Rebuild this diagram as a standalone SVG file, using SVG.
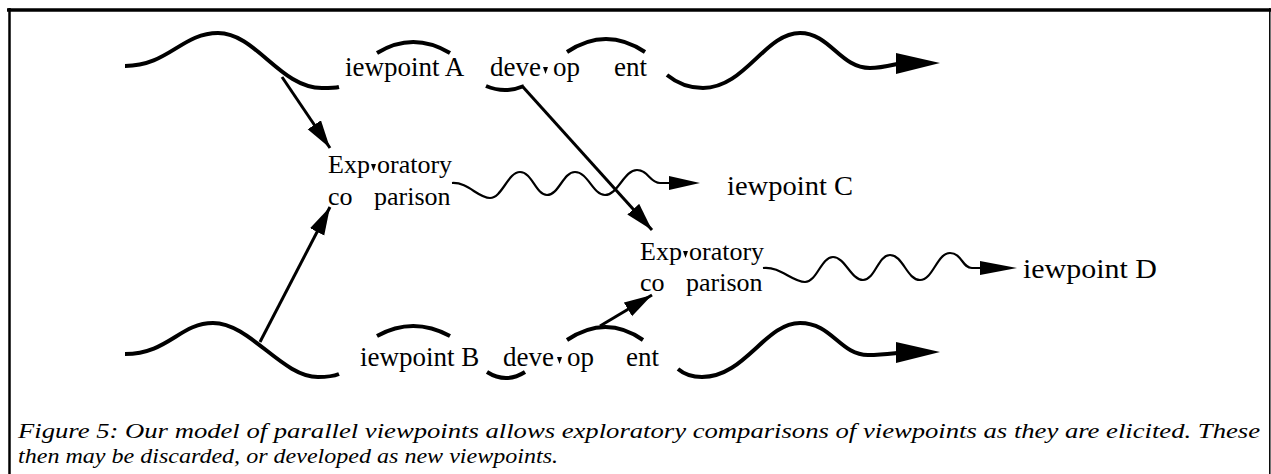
<svg xmlns="http://www.w3.org/2000/svg" width="1271" height="474" viewBox="0 0 1271 474">
  <style>
    .lbl { font-family: "Liberation Serif", "Times New Roman", serif; font-size: 27px; fill: #000; }
    .box { font-family: "Liberation Serif", "Times New Roman", serif; font-size: 26px; fill: #000; }
    .cap { font-family: "Liberation Serif", "Times New Roman", serif; font-size: 22px; font-style: italic; fill: #000; }
    .thick { fill: none; stroke: #000; stroke-width: 4; stroke-linecap: butt; }
    .wavy { fill: none; stroke: #000; stroke-width: 2.2; }
    .link { fill: none; stroke: #000; stroke-width: 3; marker-end: url(#head); }
    .stub { fill: #000; }
  </style>
  <defs>
    <marker id="head" markerUnits="userSpaceOnUse" markerWidth="30" markerHeight="18" refX="28" refY="8" orient="auto">
      <path d="M0,0 L28,8 L0,16 Z" fill="#000"/>
    </marker>
  </defs>

  <rect x="0" y="0" width="1271" height="474" fill="#fff"/>

  <!-- figure frame -->
  <g id="frame" stroke="#000" fill="none">
    <path d="M7,10 H1271" stroke-width="3.5"/>
    <path d="M9.5,8 V474" stroke-width="2.5"/>
    <path d="M1269.8,8 V474" stroke-width="1.5"/>
  </g>

  <!-- viewpoint A development strand -->
  <g id="viewpoint-a">
    <path class="thick" d="M125,66 C168,66 182,33 218,33 C256,33 280,88 322,88 C330,88 335,88 339,87"/>
    <path class="thick" d="M377,53 Q413,31 450,53"/>
    <path class="thick" d="M486,86 Q505,94 524,86"/>
    <path class="thick" d="M567,52 Q606,26 645,52"/>
    <path class="thick" d="M667,75 C678,84 690,88 703,88 C745,88 765,33 800,33 C830,33 840,68 870,68 C880,68 888,66 897,64"/>
    <polygon points="940,63 896,53 896,74"/>
    <text class="lbl" x="345" y="76">iewpoint A</text>
    <text class="lbl" x="490" y="76">deve</text>
    <path class="stub" d="M543,67 h5 l-2.5,7 z"/>
    <text class="lbl" x="553" y="76">op</text>
    <text class="lbl" x="614" y="76">ent</text>
  </g>

  <!-- viewpoint B development strand -->
  <g id="viewpoint-b">
    <path class="thick" d="M125,354 C168,354 180,323 213,323 C250,323 282,377 318,377 C328,377 334,376 339,374"/>
    <path class="thick" d="M377,336 Q413,316 450,336"/>
    <path class="thick" d="M487,372 Q506,384 525,372"/>
    <path class="thick" d="M567,340 Q606,314 643,340"/>
    <path class="thick" d="M678,369 C685,375 692,377 702,377 C745,377 765,323 800,323 C832,323 840,355 868,355 C880,355 888,354 897,353"/>
    <polygon points="940,352 896,342 896,363"/>
    <text class="lbl" x="360" y="366">iewpoint B</text>
    <text class="lbl" x="503" y="366">deve</text>
    <path class="stub" d="M557,357 h5 l-2.5,7 z"/>
    <text class="lbl" x="567" y="366">op</text>
    <text class="lbl" x="626" y="366">ent</text>
  </g>

  <!-- first exploratory comparison -->
  <g id="comparison-1">
    <text class="box" x="328" y="173">Exp</text>
    <path class="stub" d="M371,164 h5 l-2.5,7 z"/>
    <text class="box" x="377" y="173">oratory</text>
    <text class="box" x="328" y="205">co</text>
    <text class="box" x="374" y="205">parison</text>
  </g>

  <!-- second exploratory comparison -->
  <g id="comparison-2">
    <text class="box" x="640" y="260">Exp</text>
    <path class="stub" d="M683,251 h5 l-2.5,7 z"/>
    <text class="box" x="689" y="260">oratory</text>
    <text class="box" x="640" y="291">co</text>
    <text class="box" x="686" y="291">parison</text>
  </g>

  <!-- resulting viewpoints -->
  <g id="viewpoint-c">
    <text class="lbl" x="727" y="195" textLength="126" lengthAdjust="spacingAndGlyphs">iewpoint C</text>
  </g>
  <g id="viewpoint-d">
    <text class="lbl" x="1023" y="278" textLength="134" lengthAdjust="spacingAndGlyphs">iewpoint D</text>
  </g>

  <!-- connectors -->
  <g id="connectors">
    <path class="link" d="M282,77 L330,148"/>
    <path class="link" d="M260,342 L330,207"/>
    <path class="link" d="M523,87 L652,230"/>
    <path class="link" d="M600,326 L652,295"/>
    <path class="wavy" d="M452,183 C468,182 478,198 490,198 C502,198 508,172 520,172 C532,172 536,195 547,195 C559,195 563,172 575,172 C588,172 593,195 605,195 C618,195 624,170 637,170 C648,170 650,183 660,183 L672,183"/>
    <polygon points="700,183 669,176 669,190"/>
    <path class="wavy" d="M763,268 C780,266 792,282 805,282 C817,282 821,257 833,257 C845,257 851,280 863,280 C875,280 878,255 890,255 C903,255 907,280 920,280 C933,280 937,253 950,253 C962,253 962,268 972,268 L982,268"/>
    <polygon points="1017,268 980,261 980,275"/>
  </g>

  <!-- caption -->
  <g id="caption">
    <text class="cap" x="18" y="438" textLength="1242" lengthAdjust="spacingAndGlyphs">Figure 5: Our model of parallel viewpoints allows exploratory comparisons of viewpoints as they are elicited. These</text>
    <text class="cap" x="18" y="463" textLength="540" lengthAdjust="spacingAndGlyphs">then may be discarded, or developed as new viewpoints.</text>
  </g>
</svg>
